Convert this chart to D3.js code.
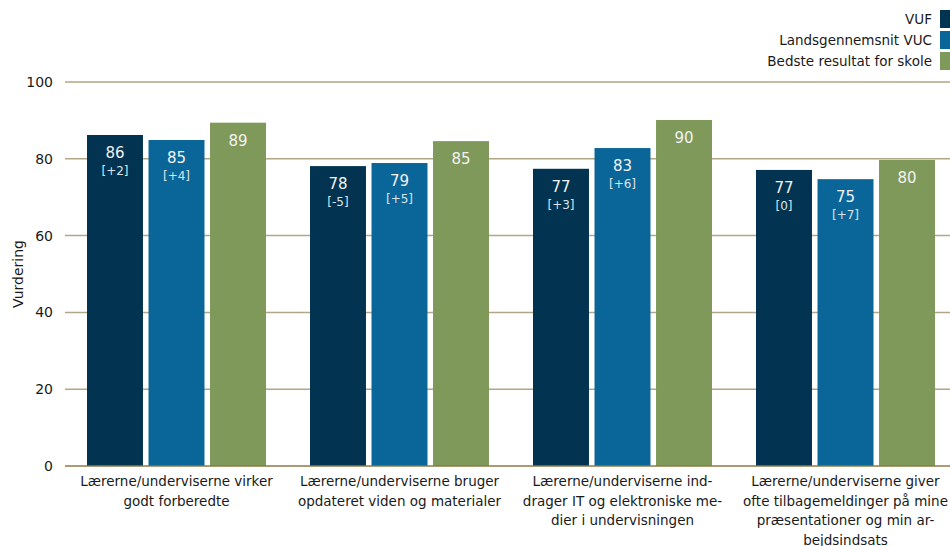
<!DOCTYPE html>
<html><head><meta charset="utf-8">
<script src="https://cdn.jsdelivr.net/npm/d3@7"></script>
<style>body{margin:0;background:#fff}svg{display:block;font-family:"DejaVu Sans",Verdana,sans-serif}</style>
</head><body><svg id="c" width="950" height="546"></svg>
<script>
const categories = [
  ["Lærerne/underviserne virker","godt forberedte"],
  ["Lærerne/underviserne bruger","opdateret viden og materialer"],
  ["Lærerne/underviserne ind-","drager IT og elektroniske me-","dier i undervisningen"],
  ["Lærerne/underviserne giver","ofte tilbagemeldinger på mine","præsentationer og min ar-","bejdsindsats"]
];
const seriesNames = ["VUF","Landsgennemsnit VUC","Bedste resultat for skole"];
const vuf = [86.2, 78.1, 77.4, 77.1];
const landsgennemsnit = [84.9, 78.9, 82.8, 74.7];
const bedste = [89.4, 84.6, 90.1, 79.7];
const vufDiff = ["[+2]","[-5]","[+3]","[0]"];
const landsDiff = ["[+4]","[+5]","[+6]","[+7]"];
const yTicks = [0,20,40,60,80,100];
const colors = ["#023451","#0a6699","#7f995a"];

const series = [vuf, landsgennemsnit, bedste];
const diffs = [vufDiff, landsDiff, null];
const svg = d3.select("#c");
const x0 = d3.scaleBand().domain(d3.range(categories.length)).range([65,957]).padding(0);
const x1 = d3.scaleBand().domain(d3.range(3)).range([22,201]).paddingInner(0.09).paddingOuter(0);
const y = d3.scaleLinear().domain([0,100]).range([466,82]);

// gridlines
svg.append("g").selectAll("line").data(yTicks.filter(t=>t>0)).join("line")
  .attr("x1",65).attr("x2",957).attr("y1",d=>y(d)).attr("y2",d=>y(d))
  .attr("stroke","#b3a684").attr("stroke-width",1.5);

// y axis labels
const ya = svg.append("g").attr("transform","translate(53,0)").call(d3.axisLeft(y).tickValues(yTicks).tickSize(0).tickPadding(0));
ya.select(".domain").remove();
ya.selectAll("text").attr("font-size",14).attr("fill","#1a1a1a").attr("font-family","DejaVu Sans, sans-serif");

svg.append("text").attr("transform","translate(23,274) rotate(-90)").attr("text-anchor","middle")
  .attr("font-size",14).attr("fill","#1a1a1a").text("Vurdering");

// bars
const groups = svg.append("g").selectAll("g").data(categories).join("g")
  .attr("transform",(d,i)=>`translate(${x0(i)},0)`);
series.forEach((s,si)=>{
  groups.append("rect").attr("x",x1(si)).attr("width",x1.bandwidth())
    .attr("y",(d,i)=>y(s[i])).attr("height",(d,i)=>y(0)-y(s[i])).attr("fill",colors[si]);
  groups.append("text").attr("x",x1(si)+x1.bandwidth()/2).attr("y",(d,i)=>y(s[i])+23)
    .attr("text-anchor","middle").attr("font-size",15).attr("fill","#f2f2f2")
    .text((d,i)=>Math.round(s[i]));
  if (diffs[si]) {
    groups.append("text").attr("x",x1(si)+x1.bandwidth()/2).attr("y",(d,i)=>y(s[i])+40)
      .attr("text-anchor","middle").attr("font-size",12).attr("fill","#dde3ea")
      .text((d,i)=>diffs[si][i]);
  }
});

// baseline
svg.append("line").attr("x1",65).attr("x2",957).attr("y1",y(0)).attr("y2",y(0))
  .attr("stroke","#8c7a46").attr("stroke-width",1.5);

// category labels
groups.append("text").attr("text-anchor","middle").attr("font-size",13.5).attr("fill","#1a1a1a")
  .each(function(d){
    const t = d3.select(this);
    d.forEach((line,li)=>{
      t.append("tspan").attr("x",x0.bandwidth()/2).attr("y",486+li*19.5).text(line);
    });
  });

// legend
const lg = svg.append("g").selectAll("g").data(seriesNames).join("g")
  .attr("transform",(d,i)=>`translate(0,${10+i*21})`);
lg.append("rect").attr("x",940).attr("y",0).attr("width",11).attr("height",18).attr("fill",(d,i)=>colors[i]);
lg.append("text").attr("x",932).attr("y",14).attr("text-anchor","end").attr("font-size",13.5).attr("fill","#1a1a1a").text(d=>d);
</script></body></html>
